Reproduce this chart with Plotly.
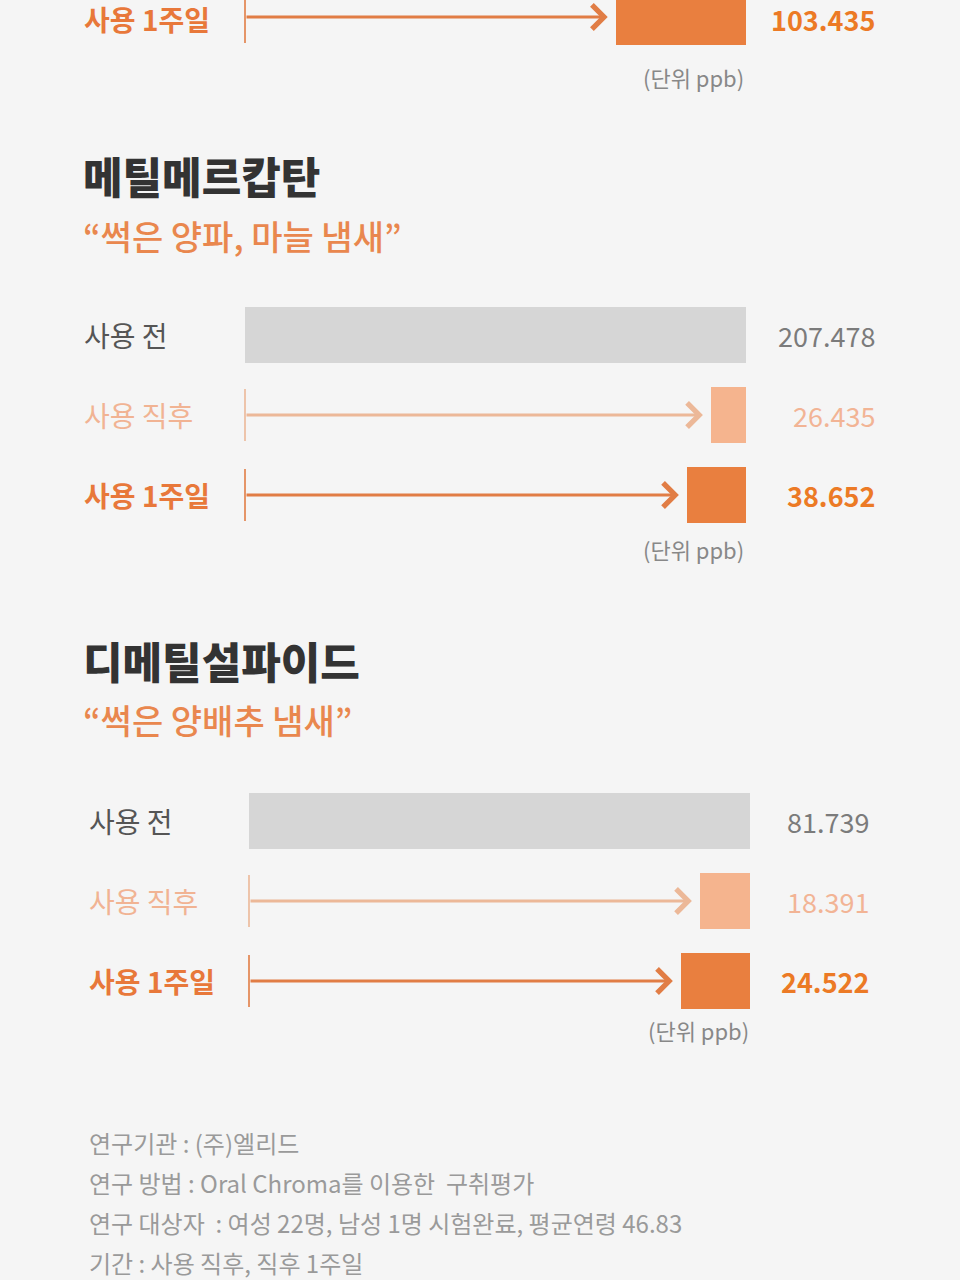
import plotly.graph_objects as go

W, H = 960, 1280
FONT = "Noto Sans CJK KR"

# ---------------- data ----------------
stages = ["사용 전", "사용 직후", "사용 1주일"]

# section cut at the top of the picture (only the last stage is visible)
top_stage_idx = [2]
top_values = [103.435]
top_bar_len = [0.26]          # drawn length relative to the "사용 전" bar

methyl_title = "메틸메르캅탄"
methyl_sub = "“썩은 양파, 마늘 냄새”"
methyl_values = [207.478, 26.435, 38.652]
methyl_bar_len = [1.0, 0.07, 0.118]

dms_title = "디메틸설파이드"
dms_sub = "“썩은 양배추 냄새”"
dms_values = [81.739, 18.391, 24.522]
dms_bar_len = [1.0, 0.10, 0.138]

unit_text = "(단위 ppb)"
footer_lines = [
    "연구기관 : (주)엘리드",
    "연구 방법 : Oral Chroma를 이용한\u00a0 구취평가",
    "연구 대상자\u00a0 : 여성 22명, 남성 1명 시험완료, 평균연령 46.83",
    "기간 : 사용 직후, 직후 1주일",
]

# ---------------- styles ----------------
bar_colors = ["#d6d6d6", "#f5b48e", "#e97f3f"]
label_colors = ["#555555", "#f1b393", "#e8783a"]
value_colors = ["#7b7b7b", "#f2b495", "#ec7a25"]
arrow_colors = [None, "#ecb898", "#e17d45"]
label_weights = [400, 400, 700]
BG = "#f5f5f5"


def py(p):
    return 1 - p / H


fig = go.Figure()
annotations = []

# (name, axis suffix, x-left px, x-right px, y-top px, y-bot px, yrange, stage idx,
#  values, bar_len, label_x, value_x, text y-shift)
sections = [
    ("top", "", 243, 746, 0, 57, [2.5, 1.7875], top_stage_idx, top_values, top_bar_len, 83, 876, -2),
    ("methyl", "2", 243, 746, 295, 535, [2.5, -0.5], [0, 1, 2], methyl_values, methyl_bar_len, 83, 876, 0),
    ("dms", "3", 247, 750, 781, 1021, [2.5, -0.5], [0, 1, 2], dms_values, dms_bar_len, 88, 870, 0),
]

GAP = 0.016
layout_axes = {}
for name, sfx, xl, xr, yt, yb, yr, idxs, vals, lens, lab_x, val_x, ysh in sections:
    xa = "x" + sfx
    ya = "y" + sfx
    layout_axes["xaxis" + sfx] = dict(domain=[xl / W, xr / W], range=[1.004, 0], visible=False,
                                      fixedrange=True, anchor=ya)
    layout_axes["yaxis" + sfx] = dict(domain=[py(yb), py(yt)], range=yr, visible=False,
                                      fixedrange=True, anchor=xa)
    fig.add_trace(go.Bar(
        x=lens, y=idxs, orientation="h", width=0.7,
        marker=dict(color=[bar_colors[i] for i in idxs], line=dict(width=0)),
        xaxis=xa, yaxis=ya, hoverinfo="skip", showlegend=False,
    ))
    for i, v, L in zip(idxs, vals, lens):
        # stage label
        annotations.append(dict(
            xref="paper", yref=ya, x=lab_x / W, y=i, xanchor="left", yanchor="middle",
            text=stages[i], showarrow=False, yshift=ysh, borderpad=0,
            font=dict(family=FONT, size=28, color=label_colors[i], weight=label_weights[i]),
        ))
        # value label
        annotations.append(dict(
            xref="paper", yref=ya, x=val_x / W, y=i, xanchor="right", yanchor="middle",
            text=f"{v:.3f}", showarrow=False, yshift=ysh, borderpad=0,
            font=dict(family=FONT, size=27, color=value_colors[i], weight=label_weights[i]),
        ))
        if arrow_colors[i]:
            c = arrow_colors[i]
            annotations.append(dict(
                xref=xa, yref=ya, x=L + GAP, y=i, axref=xa, ayref=ya, ax=1.0, ay=i,
                text="", showarrow=True, arrowhead=4, arrowsize=1.55, arrowwidth=3,
                arrowcolor=c, standoff=0,
            ))
            fig.add_trace(go.Scatter(
                x=[1.0], y=[i], mode="markers", xaxis=xa, yaxis=ya, cliponaxis=False,
                marker=dict(symbol="line-ns", size=37, line=dict(width=1.6, color=c)),
                hoverinfo="skip", showlegend=False,
            ))

# titles & subtitles
for title, sub, tx, ty, sy in [(methyl_title, methyl_sub, 81, 175, 236),
                                (dms_title, dms_sub, 81, 660, 719)]:
    annotations.append(dict(xref="paper", yref="paper", x=tx / W, y=py(ty), xanchor="left",
                            yanchor="middle", text=title, showarrow=False,
                            font=dict(family=FONT, size=43, color="#333333", weight=900)))
    annotations.append(dict(xref="paper", yref="paper", x=tx / W, y=py(sy), xanchor="left",
                            yanchor="middle", text=sub, showarrow=False,
                            font=dict(family=FONT, size=34, color="#e9874e", weight=500)))

# unit labels
for ux, uy in [(746, 77), (746, 549), (751, 1030)]:
    annotations.append(dict(xref="paper", yref="paper", x=ux / W, y=py(uy), xanchor="right",
                            yanchor="middle", text=unit_text, showarrow=False,
                            font=dict(family=FONT, size=22, color="#888888")))

# footer
for k, line in enumerate(footer_lines):
    annotations.append(dict(xref="paper", yref="paper", x=87 / W, y=py(1142 + 40 * k),
                            xanchor="left", yanchor="middle", text=line, showarrow=False,
                            font=dict(family=FONT, size=24, color="#9a9a9a")))

fig.update_layout(
    width=W, height=H, margin=dict(l=0, r=0, t=0, b=0),
    paper_bgcolor=BG, plot_bgcolor="rgba(0,0,0,0)",
    showlegend=False, annotations=annotations, bargap=0,
    **layout_axes,
)

fig.write_html("out.html", config={"displayModeBar": False})
